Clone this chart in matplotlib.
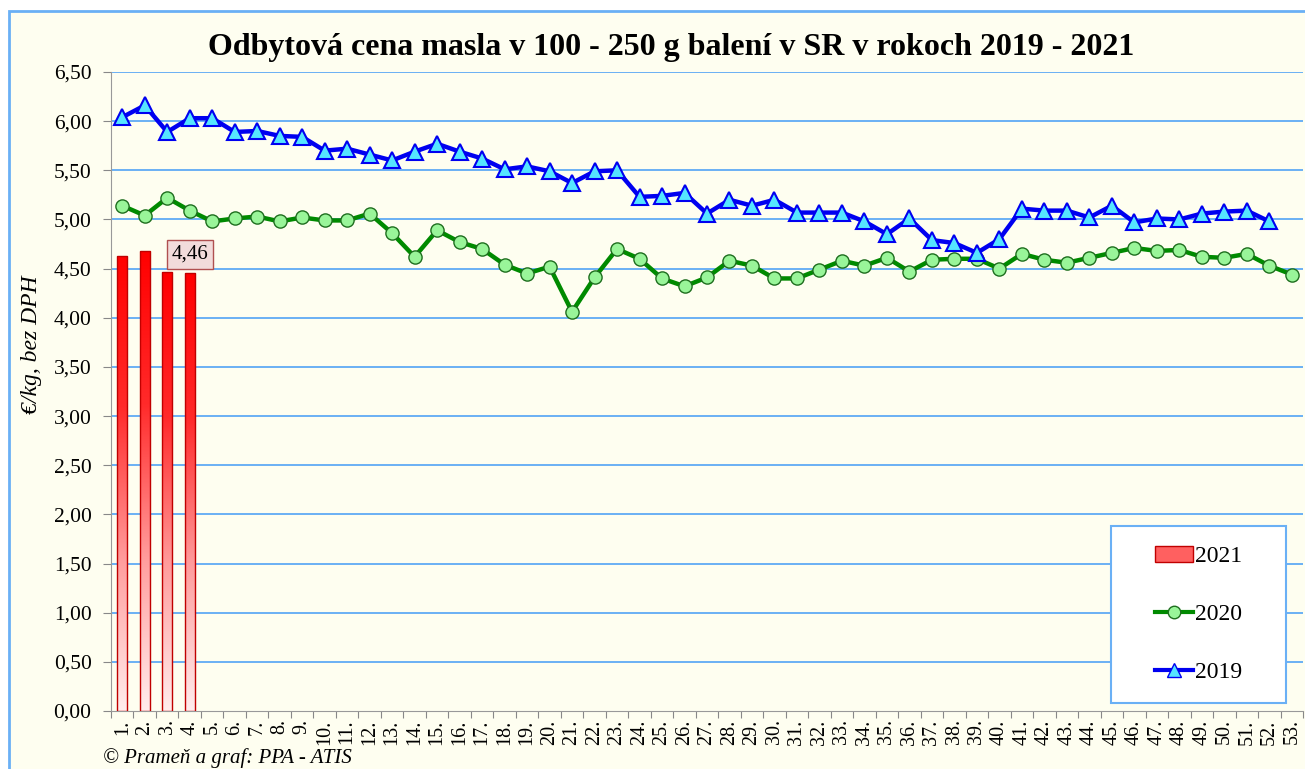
import numpy as np
import matplotlib
matplotlib.use('Agg')
import matplotlib.pyplot as plt
from matplotlib.patches import Rectangle, Patch
from matplotlib.lines import Line2D
from matplotlib.colors import LinearSegmentedColormap
from matplotlib.ticker import FuncFormatter

plt.rcParams['font.family'] = ['Liberation Serif', 'DejaVu Serif']

# data
weeks = list(range(1, 54))
week_labels = [f'{w}.' for w in weeks]

vals_2021 = [4.63, 4.68, 4.47, 4.46]

vals_2020 = [5.14, 5.04, 5.22, 5.09, 4.98, 5.01, 5.03, 4.98, 5.02, 4.99,
             4.99, 5.06, 4.86, 4.62, 4.89, 4.77, 4.70, 4.54, 4.45, 4.52,
             4.06, 4.41, 4.70, 4.60, 4.40, 4.32, 4.41, 4.58, 4.53, 4.40,
             4.40, 4.49, 4.58, 4.53, 4.61, 4.47, 4.59, 4.60, 4.60, 4.50,
             4.65, 4.59, 4.56, 4.61, 4.66, 4.71, 4.68, 4.69, 4.62, 4.61,
             4.65, 4.53, 4.44]

vals_2019 = [6.04, 6.16, 5.89, 6.03, 6.03, 5.89, 5.90, 5.85, 5.84, 5.70,
             5.72, 5.66, 5.60, 5.69, 5.77, 5.69, 5.62, 5.51, 5.54, 5.49,
             5.37, 5.49, 5.50, 5.23, 5.24, 5.27, 5.06, 5.20, 5.14, 5.20,
             5.07, 5.07, 5.07, 4.98, 4.85, 5.01, 4.79, 4.76, 4.66, 4.80,
             5.11, 5.09, 5.09, 5.02, 5.14, 4.97, 5.01, 5.00, 5.06, 5.08,
             5.09, 4.98]

W, H = 1305, 769
bg = '#FEFEF0'
grid_blue = '#6AB0F5'

fig = plt.figure(figsize=(W / 100, H / 100), dpi=100, facecolor='white')

# chart area with blue border (only left/top visible)
fig.add_artist(Rectangle((9 / W, -0.1), 1.2, 1.1 - 11 / H, transform=fig.transFigure,
                         facecolor=bg, edgecolor=grid_blue, lw=2, zorder=0))

ax = fig.add_axes([111 / W, 1 - 711 / H, (1303 - 111) / W, (711 - 72) / H])
ax.set_facecolor(bg)

# gridlines
for v in np.arange(0.5, 6.51, 0.5):
    ax.axhline(v, color=grid_blue, lw=1.4, zorder=1)

# 2021 bars with vertical gradient
cmap = LinearSegmentedColormap.from_list('redfade', ['#FFEDED', '#FF9C9C', '#FF2A2A', '#FF0000'])
grad = np.linspace(1, 0, 256).reshape(-1, 1)
bars = ax.bar(weeks[:len(vals_2021)], vals_2021, width=0.46, facecolor='none',
              edgecolor='#C00000', lw=1, zorder=3)
for b in bars:
    im = ax.imshow(grad, extent=[b.get_x(), b.get_x() + b.get_width(), 0, b.get_height()],
                   aspect='auto', cmap=cmap, vmin=0, vmax=1, zorder=2.9)
    im.set_clip_path(b)

ax.annotate('4,46', xy=(4, vals_2021[3]), xytext=(0, 13), textcoords='offset points',
            ha='center', va='center', fontsize=15,
            bbox=dict(boxstyle='square,pad=0.22', fc='#F2DCDB', ec='#B05050', lw=1),
            zorder=6)

# lines
ax.plot(weeks[:len(vals_2020)], vals_2020, color='#008A00', lw=3.2, marker='o', ms=9.5,
        mfc='#99F599', mec='#1E6E1E', mew=1, zorder=4)
ax.plot(weeks[:len(vals_2019)], vals_2019, color='#0000F0', lw=3.2, marker='^', ms=11,
        mfc='#55E5FF', mec='#0000F0', mew=1.5, zorder=5)

ax.set_xlim(0.5, 53.5)
ax.set_ylim(0, 6.5)
ax.set_yticks(np.arange(0, 6.51, 0.5))
ax.yaxis.set_major_formatter(FuncFormatter(lambda v, p: f'{v:.2f}'.replace('.', ',')))
ax.tick_params(axis='y', direction='out', length=6, color='#888888', labelsize=15.5, pad=8)

ax.set_xticks(np.arange(0.5, 53.6, 1))
ax.set_xticklabels([])
ax.set_xticks(weeks, minor=True)
ax.set_xticklabels(week_labels, minor=True, rotation=90, fontsize=14.5)
ax.tick_params(axis='x', which='major', direction='out', length=5, color='#888888')
ax.tick_params(axis='x', which='minor', length=0, pad=6)

for s in ['top', 'right']:
    ax.spines[s].set_visible(False)
ax.spines['left'].set_color('#999999')
ax.spines['bottom'].set_color('#999999')

# legend box
lx0, lx1 = (1111 - 111) / 1192, (1286 - 111) / 1192
ly0, ly1 = (711 - 703) / 639, (711 - 526) / 639
ax.add_patch(Rectangle((lx0, ly0), lx1 - lx0, ly1 - ly0, transform=ax.transAxes,
                       facecolor='white', edgecolor=grid_blue, lw=1.5, zorder=6))
handles = [Patch(facecolor='#FF6060', edgecolor='#C00000'),
           Line2D([], [], color='#008A00', lw=3, marker='o', ms=9, mfc='#99F599', mec='#1E6E1E'),
           Line2D([], [], color='#0000F0', lw=3, marker='^', ms=10, mfc='#55E5FF', mec='#0000F0')]
leg = ax.legend(handles, ['2021', '2020', '2019'], loc='center',
                bbox_to_anchor=((lx0 + lx1) / 2, (ly0 + ly1) / 2), bbox_transform=ax.transAxes,
                frameon=False, fontsize=17, labelspacing=1.55, handlelength=1.6,
                handletextpad=0.1)
leg.set_zorder(7)

fig.text(671 / W, 1 - 47 / H, 'Odbytová cena masla v 100 - 250 g balení v SR v rokoch 2019 - 2021',
         ha='center', va='center', fontsize=23, fontweight='bold')
fig.text(32 / W, 1 - 345 / H, '€/kg, bez DPH', rotation=90, ha='center', va='center',
         fontsize=17, style='italic')
fig.text(103 / W, 1 - 758 / H, '© Prameň a graf: PPA - ATIS', ha='left', va='center',
         fontsize=15, style='italic')

fig.savefig('out.png', dpi=100, facecolor=fig.get_facecolor())
